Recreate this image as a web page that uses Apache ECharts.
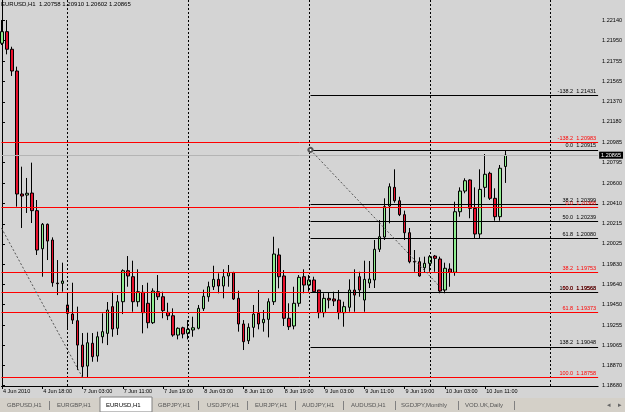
<!DOCTYPE html>
<html><head><meta charset="utf-8">
<script src="https://cdn.jsdelivr.net/npm/echarts@6/dist/echarts.min.js"></script>
<style>html,body{margin:0;padding:0;background:#d4d4d4}#c{width:625px;height:412px}</style>
</head><body><div id="c"></div>
<script>
// ---- data (EURUSD H1, one bar per hour, bar index = category) ----
const opens = [1.21926,1.22036,1.21869,1.21663,1.20497,1.20487,1.20506,1.20339,1.19978,1.20210,
1.20061,1.19653,1.19650,1.19445,1.19359,1.19296,1.19065,1.18866,1.19082,1.18961,
1.19144,1.19176,1.19429,1.19224,1.19476,1.19770,1.19713,1.19476,1.19565,1.19461,
1.19277,1.19571,1.19523,1.19375,1.19343,1.19160,1.19229,1.19176,1.19208,1.19224,
1.19410,1.19523,1.19618,1.19688,1.19625,1.19720,1.19751,1.19508,1.19265,1.19106,
1.19233,1.19366,1.19277,1.19309,1.19476,1.19919,1.19720,1.19319,1.19246,1.19461,
1.19713,1.19634,1.19682,1.19587,1.19372,1.19508,1.19502,1.19492,1.19372,1.19423,
1.19587,1.19713,1.19492,1.19653,1.19682,1.19973,1.20089,1.20383,1.20560,1.20433,
1.20301,1.20130,1.19857,1.19855,1.19798,1.19840,1.19909,1.19881,1.19587,1.19786,
1.19755,1.20329,1.20525,1.20630,1.20361,1.20118,1.20560,1.20693,1.20456,1.20282,
1.20758];
const highs = [1.22146,1.22146,1.21893,1.21704,1.20756,1.20649,1.20794,1.20440,1.20222,1.20217,
1.20086,1.19871,1.19846,1.19556,1.19656,1.19429,1.19179,1.19182,1.19179,1.19192,
1.19366,1.19473,1.19571,1.19539,1.19783,1.19909,1.19865,1.19783,1.19634,1.19656,
1.19603,1.19729,1.19571,1.19466,1.19413,1.19233,1.19239,1.19302,1.19334,1.19445,
1.19590,1.19666,1.19817,1.19745,1.19783,1.19824,1.19760,1.19580,1.19302,1.19271,
1.19445,1.19587,1.19397,1.19508,1.20092,1.19982,1.19776,1.19461,1.19618,1.19729,
1.19783,1.19729,1.19713,1.19587,1.19556,1.19561,1.19571,1.19587,1.19476,1.19688,
1.19783,1.19760,1.19865,1.19862,1.20061,1.20250,1.20456,1.20598,1.20731,1.20471,
1.20339,1.20175,1.19966,1.19897,1.19903,1.19919,1.19919,1.19903,1.19846,1.19840,
1.20424,1.20560,1.20646,1.20636,1.20560,1.20731,1.20876,1.20708,1.20551,1.20772,
1.20910];
const lows = [1.21909,1.21821,1.21616,1.20377,1.20175,1.20317,1.20222,1.19919,1.19713,1.19871,
1.19618,1.19539,1.19571,1.19227,1.19265,1.18828,1.18757,1.18762,1.18907,1.18907,
1.19082,1.19065,1.19144,1.19160,1.19359,1.19618,1.19381,1.19429,1.19176,1.19224,
1.19265,1.19492,1.19319,1.19302,1.19144,1.19119,1.19129,1.19119,1.19144,1.19214,
1.19388,1.19476,1.19587,1.19556,1.19508,1.19618,1.19492,1.19192,1.19018,1.19075,
1.19138,1.19214,1.19192,1.19138,1.19445,1.19603,1.19246,1.19208,1.19214,1.19429,
1.19556,1.19571,1.19561,1.19319,1.19328,1.19413,1.19435,1.19309,1.19239,1.19381,
1.19381,1.19523,1.19381,1.19606,1.19606,1.19947,1.20061,1.20219,1.20414,1.20288,
1.20061,1.19840,1.19760,1.19713,1.19751,1.19760,1.19760,1.19556,1.19556,1.19618,
1.19722,1.20282,1.20504,1.20267,1.20077,1.20077,1.20466,1.20440,1.20244,1.20244,
1.20602];
const closes = [1.22036,1.21869,1.21663,1.20497,1.20478,1.20504,1.20339,1.19966,1.20210,1.20051,
1.19656,1.19647,1.19672,1.19366,1.19302,1.19065,1.18860,1.19087,1.18955,1.19144,
1.19192,1.19397,1.19217,1.19476,1.19770,1.19720,1.19476,1.19571,1.19372,1.19277,
1.19577,1.19523,1.19391,1.19343,1.19160,1.19224,1.19170,1.19214,1.19229,1.19413,
1.19527,1.19618,1.19688,1.19625,1.19713,1.19751,1.19502,1.19265,1.19097,1.19233,
1.19359,1.19265,1.19309,1.19476,1.19928,1.19713,1.19319,1.19239,1.19461,1.19707,
1.19634,1.19682,1.19571,1.19372,1.19508,1.19492,1.19483,1.19372,1.19429,1.19587,
1.19539,1.19587,1.19688,1.19691,1.19973,1.20092,1.20377,1.20566,1.20433,1.20301,
1.20130,1.19855,1.19852,1.19720,1.19840,1.19903,1.19887,1.19577,1.19793,1.19755,
1.20329,1.20525,1.20623,1.20361,1.20118,1.20541,1.20684,1.20456,1.20282,1.20741,
1.20865];
const timeLabels = ['4 Jun 2010','4 Jun 18:00','7 Jun 03:00','7 Jun 11:00','7 Jun 19:00','8 Jun 03:00',
  '8 Jun 11:00','8 Jun 19:00','9 Jun 03:00','9 Jun 11:00','9 Jun 19:00','10 Jun 03:00','10 Jun 11:00'];
const labelStep = 8;
const priceTicks = [1.22140,1.21950,1.21755,1.21565,1.21370,1.21180,1.20985,1.20795,1.20600,1.20410,
  1.20215,1.20025,1.19830,1.19640,1.19450,1.19255,1.19065,1.18870,1.18680];
const dayStarts = [13, 37, 61, 85, 109];
const redFibLevels = ['-138.2','0.0','38.2','50.0','61.8','100.0'];
const redFibValues = [1.20983,1.20368,1.19753,1.19563,1.19373,1.18758];
const redFibAnchor = [[-2.3, 1.20368],[16, 1.18758]];
const blackFibLevels = ['-138.2','0.0','38.2','50.0','61.8','100.0','138.2'];
const blackFibValues = [1.21431,1.20915,1.20399,1.20239,1.20080,1.19568,1.19048];
const blackFibAnchor = [[61.3, 1.20915],[88, 1.19568]];
const tabs = ['GBPUSD,H1','EURGBP,H1','EURUSD,H1','GBPJPY,H1','USDJPY,H1','EURJPY,H1','AUDJPY,H1','AUDUSD,H1','SGDJPY,Monthly','VOD.UK,Daily'];
const activeTab = 2;

// ---- chart ----
const FONT = '"Liberation Sans", Arial, sans-serif';
const BG = '#d4d4d4';
const xMin = -0.1, xMax = 118.45;
const yMin = 1.18677, yMax = 1.22336;
const last = opens.length - 1;
const candleData = opens.map((o, i) => [i, o, closes[i], lows[i], highs[i]]);
const lastClose = closes[last];

const ra0 = redFibAnchor[0], ra1 = redFibAnchor[1];
const raStartY = ra0[1] + (ra1[1] - ra0[1]) * (xMin - ra0[0]) / (ra1[0] - ra0[0]);

const lblBase = {fontFamily: FONT, fontSize: 5.5};
const hLine = (v, x0, name, extra) => [Object.assign({name: name, coord: [x0, v]}, extra || {}), {coord: [xMax, v]}];

const option = {
  backgroundColor: BG,
  animation: false,
  grid: {left: 0, right: 24, top: 0, bottom: 26, containLabel: false},
  xAxis: {
    type: 'value', min: xMin, max: xMax,
    axisLine: {show: true, lineStyle: {color: '#000', width: 1}},
    axisTick: {show: true, length: 3, lineStyle: {color: '#000'},
      customValues: timeLabels.map((t, k) => k * labelStep)},
    axisLabel: {show: true, customValues: timeLabels.map((t, k) => k * labelStep),
      formatter: v => timeLabels[Math.round(v / labelStep)] || '',
      align: 'left', margin: 2, color: '#000', fontFamily: FONT, fontSize: 5.5, padding: [0,0,0,1]},
    splitLine: {show: false}
  },
  yAxis: {
    type: 'value', position: 'right', min: yMin, max: yMax, scale: true,
    axisLine: {show: true, lineStyle: {color: '#000', width: 1}},
    axisTick: {show: true, length: 3, lineStyle: {color: '#000'}, customValues: priceTicks},
    axisLabel: {show: true, customValues: priceTicks, formatter: v => v.toFixed(5),
      margin: 4, color: '#000', fontFamily: FONT, fontSize: 5.5},
    splitLine: {show: false}
  },
  series: [
    { // vertical day separators
      type: 'line', data: [], z: 1, silent: true,
      markLine: {silent: true, symbol: ['none','none'], animation: false,
        lineStyle: {color: '#000', width: 1, type: [2, 2]}, label: {show: false},
        data: dayStarts.map(d => [{coord: [d, yMin]}, {coord: [d, yMax]}])}
    },
    { // bid line
      type: 'line', data: [], z: 2, silent: true,
      markLine: {silent: true, symbol: ['none','none'], animation: false,
        lineStyle: {color: '#b4b4b4', width: 1, type: 'solid'},
        label: {show: true, position: 'end', distance: 1, formatter: () => lastClose.toFixed(5),
          backgroundColor: '#000', color: '#fff', padding: [1, 2, 0, 2], ...lblBase},
        data: [hLine(lastClose, xMin, 'bid')]}
    },
    {
      type: 'candlestick', z: 3, barWidth: 3,
      encode: {x: 0, y: [1, 2, 3, 4]},
      data: candleData,
      itemStyle: {color: '#90ee90', color0: '#e8102c', borderColor: '#000', borderColor0: '#000',
        borderColorDoji: '#000', borderWidth: 1}
    },
    { // red fibo
      type: 'line', data: [], z: 4, silent: true,
      markLine: {silent: true, symbol: ['none','none'], animation: false,
        lineStyle: {color: '#ff0000', width: 1, type: 'solid'},
        label: {show: true, position: 'insideEndTop', distance: [2, 1], formatter: '{b}', color: '#ff0000', ...lblBase},
        data: redFibValues.map((v, k) => hLine(v, xMin, redFibLevels[k] + '  ' + v.toFixed(5))).concat([
          [{coord: [xMin, raStartY], name: '', lineStyle: {color: '#555', type: [2, 2]}, label: {show: false}},
           {coord: [ra1[0], ra1[1]]}]
        ])}
    },
    { // black fibo
      type: 'line', data: [], z: 5, silent: true,
      markLine: {silent: true, symbol: ['none','none'], animation: false,
        lineStyle: {color: '#000', width: 1, type: 'solid'},
        label: {show: true, position: 'insideEndTop', distance: [2, 1], formatter: '{b}', color: '#000', ...lblBase},
        data: blackFibValues.map((v, k) => hLine(v, blackFibAnchor[0][0], blackFibLevels[k] + '  ' + v.toFixed(5))).concat([
          [{coord: blackFibAnchor[0], name: '', symbol: 'emptyCircle', symbolSize: 4,
            lineStyle: {color: '#555', type: [2, 2]}, label: {show: false}},
           {coord: blackFibAnchor[1], symbol: 'none'}]
        ])}
    }
  ],
  graphic: []
};

option.graphic.push({type: 'text', left: 1, top: 1, z: 100,
  style: {text: 'EURUSD,H1  ' + [opens[last], highs[last], lows[last], closes[last]].map(v => v.toFixed(5)).join(' '),
    fill: '#000', font: '6px ' + FONT}});

const tabY = 398;
option.graphic.push({type: 'rect', shape: {x: 0, y: tabY, width: 625, height: 412 - tabY},
  style: {fill: '#d4d0c8'}, z: 50});
const tabX = [7, 57, 106, 158, 207, 255, 302, 351, 401, 465];
const sepX = [49, 97, 152, 198, 247, 295, 343, 395, 458, 514];
option.graphic.push({type: 'rect', shape: {x: 100, y: tabY - 1, width: 52, height: 412 - tabY + 1},
  style: {fill: '#fff', stroke: '#808080', lineWidth: 1}, z: 51});
tabs.forEach((t, k) => {
  option.graphic.push({type: 'text', x: tabX[k], y: 405, z: 52,
    style: {text: t, fill: k === activeTab ? '#000' : '#555', font: '6px ' + FONT, verticalAlign: 'middle'}});
});
sepX.forEach((x, k) => {
  if (k === 1 || k === 2) return;
  option.graphic.push({type: 'line', shape: {x1: x + 0.5, y1: 401, x2: x + 0.5, y2: 410}, style: {stroke: '#808080', lineWidth: 1}, z: 52});
});
option.graphic.push({type: 'text', x: 607, y: 405, z: 52, style: {text: '◂', fill: '#666', font: '7px ' + FONT, verticalAlign: 'middle'}});
option.graphic.push({type: 'text', x: 618, y: 405, z: 52, style: {text: '▸', fill: '#666', font: '7px ' + FONT, verticalAlign: 'middle'}});

const chart = echarts.init(document.getElementById('c'));
chart.setOption(option);
</script></body></html>
